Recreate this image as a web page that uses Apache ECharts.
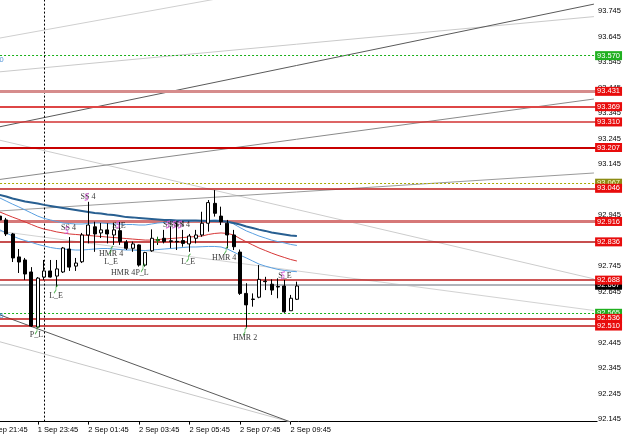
<!DOCTYPE html>
<html><head><meta charset="utf-8">
<script src="https://cdn.jsdelivr.net/npm/echarts@6/dist/echarts.min.js"></script>
<style>html,body{margin:0;padding:0;background:#fff}#c{width:625px;height:436px}</style>
</head><body><div id="c"></div>
<script>
// ---------- DATA ----------
// 15-minute bars, first bar of the window = 1 Sep 22:15 (category index 2)
const firstBar = 2;
const opens  = [92.941,92.926,92.871,92.781,92.769,92.722,92.506,92.702,92.726,92.706,92.722,92.812,92.745,92.762,92.867,92.899,92.875,92.887,92.867,92.884,92.839,92.815,92.828,92.749,92.805,92.845,92.854,92.844,92.842,92.845,92.832,92.854,92.867,92.913,92.991,92.941,92.913,92.867,92.800,92.638,92.614,92.623,92.686,92.674,92.665,92.667,92.570,92.615];
const closes = [92.926,92.871,92.777,92.761,92.714,92.510,92.698,92.726,92.702,92.734,92.816,92.741,92.757,92.867,92.906,92.871,92.887,92.871,92.887,92.841,92.815,92.832,92.749,92.798,92.854,92.849,92.841,92.842,92.840,92.834,92.863,92.867,92.913,92.994,92.952,92.919,92.867,92.821,92.638,92.593,92.616,92.693,92.684,92.651,92.663,92.566,92.619,92.667];
const lows   = [92.918,92.863,92.761,92.718,92.691,92.506,92.502,92.691,92.700,92.663,92.718,92.726,92.726,92.757,92.834,92.801,92.855,92.834,92.828,92.828,92.808,92.801,92.743,92.743,92.801,92.828,92.834,92.815,92.808,92.821,92.801,92.834,92.860,92.880,92.939,92.906,92.815,92.808,92.632,92.505,92.586,92.619,92.651,92.632,92.619,92.562,92.570,92.612];
const highs  = [92.957,92.934,92.875,92.812,92.777,92.741,92.702,92.769,92.769,92.769,92.820,92.859,92.777,92.875,92.997,92.919,92.914,92.913,92.914,92.919,92.847,92.841,92.830,92.801,92.889,92.860,92.887,92.899,92.913,92.887,92.871,92.887,92.958,93.004,93.043,92.978,92.926,92.887,92.810,92.678,92.638,92.749,92.703,92.693,92.697,92.691,92.632,92.684];

// indicator lines, one value per category index 0..49
const maDark   = [93.035,93.030,93.024,93.018,93.010,93.004,92.998,92.994,92.990,92.985,92.981,92.977,92.973,92.969,92.965,92.961,92.957,92.953,92.951,92.947,92.945,92.941,92.937,92.936,92.934,92.932,92.930,92.928,92.926,92.926,92.924,92.924,92.924,92.924,92.923,92.922,92.922,92.921,92.919,92.914,92.908,92.900,92.894,92.888,92.883,92.877,92.873,92.869,92.865,92.863];
const bandUpper= [93.028,93.020,93.012,93.000,92.988,92.977,92.965,92.953,92.941,92.932,92.926,92.920,92.914,92.912,92.910,92.910,92.912,92.914,92.914,92.912,92.910,92.910,92.908,92.908,92.906,92.906,92.910,92.914,92.916,92.918,92.918,92.919,92.920,92.922,92.922,92.924,92.926,92.924,92.920,92.910,92.896,92.883,92.873,92.863,92.855,92.847,92.841,92.836,92.830,92.826];
const maRed    = [92.977,92.969,92.957,92.947,92.937,92.928,92.918,92.908,92.898,92.890,92.885,92.879,92.875,92.871,92.869,92.867,92.865,92.863,92.861,92.859,92.857,92.855,92.853,92.851,92.849,92.847,92.847,92.849,92.851,92.853,92.855,92.857,92.859,92.861,92.863,92.869,92.873,92.875,92.873,92.867,92.853,92.840,92.828,92.816,92.806,92.796,92.787,92.779,92.771,92.765];
const bandLower= [92.910,92.898,92.887,92.875,92.863,92.853,92.845,92.838,92.830,92.824,92.818,92.814,92.812,92.810,92.808,92.808,92.810,92.812,92.814,92.814,92.812,92.810,92.808,92.808,92.806,92.806,92.808,92.810,92.812,92.814,92.816,92.818,92.820,92.820,92.821,92.822,92.822,92.820,92.812,92.800,92.788,92.777,92.765,92.753,92.745,92.738,92.732,92.728,92.725,92.723];

// horizontal levels
const redLevels   = [93.431,93.369,93.310,93.207,93.046,92.916,92.836,92.688,92.536,92.510];
const greenLevels = [93.570,92.565];
const oliveLevels = [93.067];
const bidPrice    = 92.667;

// trend lines: start/end bar index and price
const trendStartIdx   = [0,0,0,0,0,0,0,0,0];
const trendStartPrice = [93.630,93.502,93.281,93.250,93.078,92.958,92.888,92.462,92.572];
const trendEndIdx     = [40,96,96,96,96,96,96,48,48];
const trendEndPrice   = [93.809,93.723,93.772,92.695,93.400,93.110,92.571,92.134,92.134];

// pattern labels
const labelTexts  = ['SS 4','SS 4','S_E','SS 4','SS 4','SS 4','HMR 4','L_E','HMR 4','P_L','L_E','HMR 4','L_E','P_L','HMR 2','S_E'];
const labelIdx    = [15.95,12.86,20.85,29.0,30.0,30.9,19.6,19.6,21.5,24.5,31.8,37.5,10.9,7.8,40.8,47.1];
const labelPrices = [93.016,92.894,92.902,92.906,92.906,92.906,92.792,92.761,92.718,92.718,92.761,92.779,92.630,92.477,92.465,92.706];
// arrows
const sellIdx = [15.74,12.6,20.7,28.6,29.6,30.5,46.8];
const sellPrices = [93.016,92.886,92.908,92.908,92.908,92.908,92.710];
const buyIdx = [19.6,24.65,31.85,37.8,10.88,7.88,40.79];
const buyPrices = [92.808,92.738,92.777,92.808,92.655,92.494,92.490];
const crossIdx = [26.95];
const crossPrices = [92.847];

const priceTicks = [92.145,92.245,92.345,92.445,92.545,92.645,92.745,92.845,92.945,93.045,93.145,93.245,93.345,93.445,93.545,93.645,93.745];
const timeTickLast = 48; // last labelled bar: 2 Sep 09:45
const daySeparatorIdx = 9;

// ---------- BUILD ----------
const N = 97;
const times = [];
for (let i = 0; i < N; i++) {
  const m = 21 * 60 + 45 + 15 * i;
  const d = 1 + Math.floor(m / 1440);
  const mm = m % 1440;
  times.push(d + ' Sep ' + String(Math.floor(mm / 60)).padStart(2, '0') + ':' + String(mm % 60).padStart(2, '0'));
}
const candleData = times.map((t, i) => {
  const k = i - firstBar;
  return (k >= 0 && k < opens.length) ? [opens[k], closes[k], lows[k], highs[k]] : '-';
});
const pad = a => a.concat(new Array(N - a.length).fill(null));
const showTime = i => i % 8 === 0 && i <= timeTickLast;

const FONT = 'Liberation Sans, Arial, sans-serif';
const SERIF = 'Liberation Serif, Times New Roman, serif';
const redColors = ['rgb(214,140,140)','rgb(222,70,70)','rgb(210,50,50)','rgb(200,0,0)','rgb(190,30,30)','rgb(214,120,120)','rgb(180,20,20)','rgb(190,30,30)','rgb(190,20,20)','rgb(190,20,20)'];
const redWidths = [3,2,1.5,2,1.5,3,1.5,1.5,1.5,1.5];
const tagLabel = (txt, bg, fg) => ({
  show: true, position: 'end', distance: -2,
  formatter: () => txt,
  backgroundColor: bg, color: fg, fontSize: 7.5, fontFamily: FONT,
  padding: [1, 2, 0, 2], lineHeight: 8
});

const trendColors = ['#cfcfcf','#cacaca','#5a5a5a','#cccccc','#8a8a8a','#9a9a9a','#d2d2d2','#c8c8c8','#5a5a5a'];
const trendSeries = trendStartIdx.map((s, k) => ({
  type: 'line', xAxisIndex: 1, yAxisIndex: 0, z: 1, silent: true,
  showSymbol: false, symbol: 'none', clip: true,
  lineStyle: { color: trendColors[k], width: 1 },
  data: [[s, trendStartPrice[k]], [trendEndIdx[k], trendEndPrice[k]]]
}));

const option = {
  animation: false,
  backgroundColor: '#ffffff',
  grid: { left: -15.94, top: 0, width: 613.04, height: 421.6, containLabel: false, outerBoundsMode: 'none' },
  xAxis: [{
    type: 'category', data: times, boundaryGap: true, position: 'bottom',
    axisLine: { show: true, lineStyle: { color: '#000', width: 1 } },
    axisTick: { show: true, interval: showTime, alignWithLabel: true, length: 3, lineStyle: { color: '#000' } },
    axisLabel: { show: true, interval: showTime, align: 'left', margin: 4, color: '#000', fontSize: 7.5, fontFamily: FONT },
    splitLine: { show: false }
  }, {
    type: 'value', show: false, min: -0.5, max: 96.5, splitLine: { show: false }
  }],
  yAxis: [{
    type: 'value', position: 'right', offset: -3.1,
    min: 92.13545, max: 93.78812, scale: true,
    axisLine: { show: true, lineStyle: { color: '#000', width: 1 } },
    axisTick: { show: true, customValues: priceTicks, length: 3, lineStyle: { color: '#000' } },
    axisLabel: { show: true, customValues: priceTicks, formatter: v => Number(v).toFixed(3), margin: 4, color: '#000', fontSize: 7.5, fontFamily: FONT, align: 'left' },
    splitLine: { show: false }
  }],
  series: [
    ...trendSeries,
    { // dotted / bid levels
      type: 'line', xAxisIndex: 1, yAxisIndex: 0, z: 3, silent: true, clip: false,
      data: [[-5, 92.5]], showSymbol: false, symbol: 'none', lineStyle: { width: 0 },
      markLine: {
        silent: true, symbol: ['none', 'none'], animation: false,
        data: [
          ...oliveLevels.map(v => ({ yAxis: v, lineStyle: { color: '#a8a800', width: 1, type: [2, 2] }, label: tagLabel(v.toFixed(3), '#8c8c14', '#ffffd0') })),
          { yAxis: bidPrice, lineStyle: { color: 'rgb(176,180,186)', width: 2, type: 'solid' }, label: tagLabel(bidPrice.toFixed(3), '#000000', '#ffffff') },
          ...greenLevels.map(v => ({ yAxis: v, lineStyle: { color: '#18b018', width: 1, type: [2, 2] }, label: tagLabel(v.toFixed(3), '#20b020', '#ffffff') })),
          { xAxis: daySeparatorIdx, lineStyle: { color: '#000', width: 1, type: [2, 2] }, label: { show: false } }
        ]
      }
    },
    { // red levels
      type: 'line', xAxisIndex: 1, yAxisIndex: 0, z: 4, silent: true, clip: false,
      data: [[-5, 92.5]], showSymbol: false, symbol: 'none', lineStyle: { width: 0 },
      markLine: {
        silent: true, symbol: ['none', 'none'], animation: false,
        data: redLevels.map((v, k) => ({ yAxis: v, lineStyle: { color: redColors[k], width: redWidths[k], type: 'solid' }, label: tagLabel(v.toFixed(3), '#e80c0c', '#ffffff') }))
      }
    },
    { type: 'line', z: 5, data: pad(bandLower), showSymbol: false, symbol: 'none', silent: true, lineStyle: { color: 'rgb(90,160,225)', width: 1 } },
    { type: 'line', z: 5, data: pad(maRed), showSymbol: false, symbol: 'none', silent: true, lineStyle: { color: 'rgb(215,55,55)', width: 1 } },
    { type: 'line', z: 5, data: pad(bandUpper), showSymbol: false, symbol: 'none', silent: true, lineStyle: { color: 'rgb(90,160,225)', width: 1 } },
    { type: 'line', z: 5, data: pad(maDark), showSymbol: false, symbol: 'none', silent: true, lineStyle: { color: 'rgb(40,95,145)', width: 2 } },
    {
      type: 'candlestick', z: 6, data: candleData, barWidth: 3.5, silent: true,
      itemStyle: { color: '#ffffff', color0: '#000000', borderColor: '#000000', borderColor0: '#000000', borderColorDoji: '#000000', borderWidth: 1 }
    },
    { // pattern labels
      type: 'scatter', xAxisIndex: 1, yAxisIndex: 0, z: 7, silent: true, symbolSize: 0,
      data: labelIdx.map((x, k) => ({ value: [x, labelPrices[k]], name: labelTexts[k] })),
      label: { show: true, position: 'inside', formatter: '{b}', color: '#000', fontSize: 8, fontFamily: SERIF }
    },
    {
      type: 'scatter', xAxisIndex: 1, yAxisIndex: 0, z: 8, silent: true,
      symbol: 'path://M4,0 L1,1 L1,3 L3,4 L3,6 L0,7', symbolSize: [4, 7],
      data: sellIdx.map((x, k) => [x, sellPrices[k]]),
      itemStyle: { color: 'none', borderColor: '#d455d4', borderWidth: 1 }
    },
    {
      type: 'scatter', xAxisIndex: 1, yAxisIndex: 0, z: 8, silent: true,
      symbol: 'path://M0,8 L2,5 L2,2 L4,0', symbolSize: [4, 8],
      data: buyIdx.map((x, k) => [x, buyPrices[k]]),
      itemStyle: { color: 'none', borderColor: '#2ea02e', borderWidth: 1 }
    },
    {
      type: 'scatter', xAxisIndex: 1, yAxisIndex: 0, z: 8, silent: true,
      symbol: 'path://M2,0 L2,6 M0,3 L4,3', symbolSize: [4, 6],
      data: crossIdx.map((x, k) => [x, crossPrices[k]]),
      itemStyle: { color: 'none', borderColor: '#22bb22', borderWidth: 1 }
    },
    { // cut-off level captions at the left edge
      type: 'scatter', xAxisIndex: 1, yAxisIndex: 0, z: 8, silent: true, symbolSize: 0,
      data: greenLevels.map(v => ({ value: [2.6, v], name: v.toFixed(3) })),
      label: { show: true, position: 'left', distance: 0, offset: [0, 4], formatter: '{b}', color: '#2f80d0', fontSize: 7.5, fontFamily: FONT }
    }
  ]
};
const chart = echarts.init(document.getElementById('c'), null, { renderer: 'canvas' });
chart.setOption(option);
</script></body></html>
